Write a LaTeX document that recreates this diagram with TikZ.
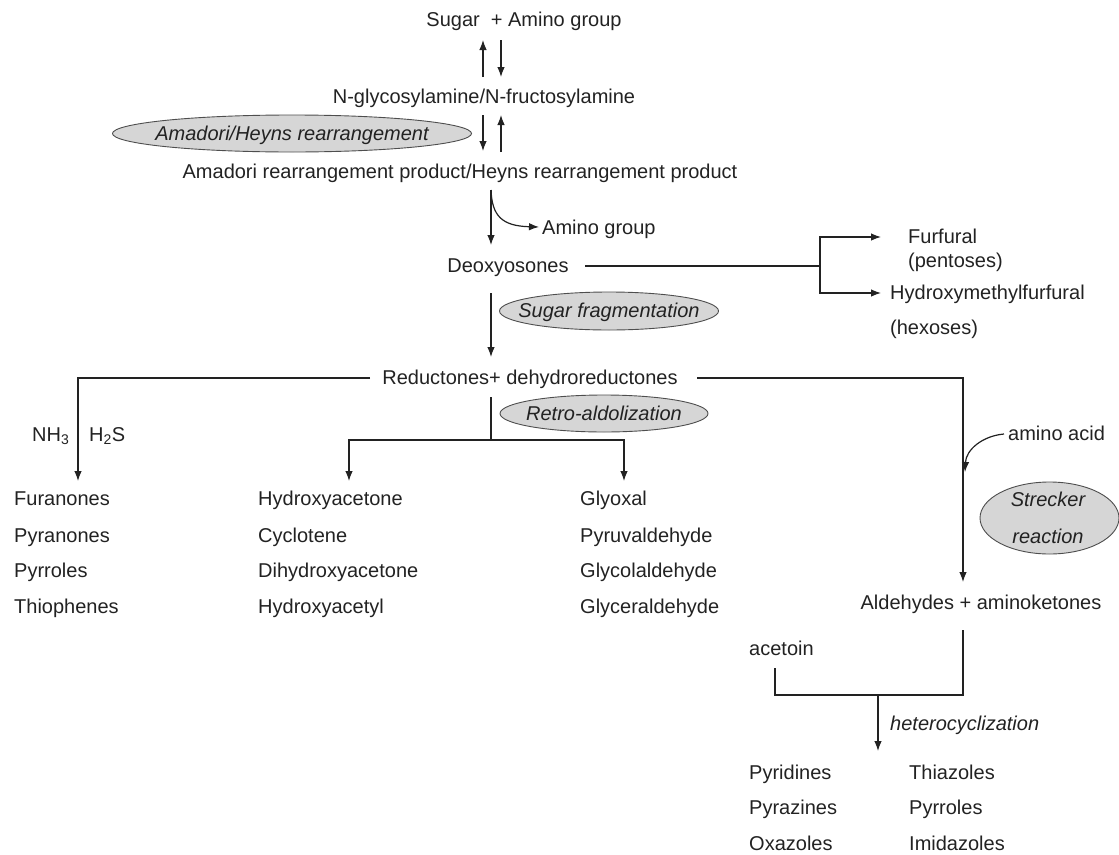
\documentclass[tikz,border=0pt]{standalone}
\usepackage{fontspec}
\setmainfont{Liberation Sans}
\usetikzlibrary{arrows.meta,shapes.geometric}
\definecolor{ink}{HTML}{222222}
\definecolor{ellfill}{HTML}{D6D6D6}
\begin{document}
\begin{tikzpicture}[x=1pt,y=-1pt,
  every node/.style={inner sep=0pt,text=ink,font=\fontsize{20}{24}\selectfont},
  lbl/.style={anchor=center,text height=0.72em,text depth=0pt,yshift=-3pt},
  item/.style={anchor=west,text height=0.72em,text depth=0pt,yshift=-3pt},
  itl/.style={font=\fontsize{20}{24}\selectfont\itshape},
  conn/.style={draw=ink,line width=1.2pt},
  arr/.style={conn,-{Latex[length=10pt,width=7.5pt]}},
  oval/.style={ellipse,draw=ink!80,line width=0.9pt,fill=ellfill},
]
\useasboundingbox (0,0) rectangle (1119,854);

% main column
\node[lbl] (sugar) at (524,20) {Sugar \ + Amino group};
\node[lbl] (ngly) at (484,97) {N-glycosylamine/N-fructosylamine};
\node[lbl] (arp) at (460,172) {Amadori rearrangement product/Heyns rearrangement product};
\node[item] (amino) at (542,228) {Amino group};
\node[lbl] (deoxy) at (508,266) {Deoxyosones};
\node[item] (furf) at (908,237) {Furfural};
\node[item] (pent) at (908,261) {(pentoses)};
\node[item] (hmf) at (890,293) {Hydroxymethylfurfural};
\node[item] (hex) at (890,328) {(hexoses)};
\node[lbl] (red) at (530,378) {Reductones+ dehydroreductones};

% ellipses
\node[oval,minimum width=359pt,minimum height=37pt] (amadori) at (292,133.5) {};
\node[lbl,itl] (amadoriT) at (amadori.center) {Amadori/Heyns rearrangement};
\node[oval,minimum width=219pt,minimum height=38pt] (sugfrag) at (609,311) {};
\node[lbl,itl] (sugfragT) at (sugfrag.center) {Sugar fragmentation};
\node[oval,minimum width=208pt,minimum height=37pt] (retro) at (604,413.5) {};
\node[lbl,itl] (retroT) at (retro.center) {Retro-aldolization};
\node[oval,minimum width=139pt,minimum height=72pt] (strecker) at (1049.5,518) {};
\node[lbl,itl] (streckerA) at (1048,500) {Strecker};
\node[lbl,itl] (streckerB) at (1048,537) {reaction};

% side labels
\node[item] (nh3) at (32,435) {NH\textsubscript{3}};
\node[item] (h2s) at (89,435) {H\textsubscript{2}S};
\node[item] (aa) at (1008,434) {amino acid};

% lists
\node[item] (furan) at (14,499) {Furanones};
\node[item] (pyran) at (14,536) {Pyranones};
\node[item] (pyrr1) at (14,571) {Pyrroles};
\node[item] (thio) at (14,607) {Thiophenes};
\node[item] (hace) at (258,499) {Hydroxyacetone};
\node[item] (cycl) at (258,536) {Cyclotene};
\node[item] (dhace) at (258,571) {Dihydroxyacetone};
\node[item] (hacet) at (258,607) {Hydroxyacetyl};
\node[item] (glyox) at (580,499) {Glyoxal};
\node[item] (pyruv) at (580,536) {Pyruvaldehyde};
\node[item] (glycol) at (580,571) {Glycolaldehyde};
\node[item] (glycer) at (580,607) {Glyceraldehyde};

\node[lbl] (ald) at (981,603) {Aldehydes + aminoketones};
\node[item] (acet) at (749,649) {acetoin};
\node[item,itl] (hetero) at (890,724) {heterocyclization};
\node[item] (pyrid) at (749,773) {Pyridines};
\node[item] (pyraz) at (749,808) {Pyrazines};
\node[item] (oxaz) at (749,844) {Oxazoles};
\node[item] (thiaz) at (909,773) {Thiazoles};
\node[item] (pyrr2) at (909,808) {Pyrroles};
\node[item] (imid) at (909,844) {Imidazoles};

% connector coordinates
\coordinate (s1) at (483,40);  \coordinate (n1) at (483,77);
\coordinate (s2) at (501,40);  \coordinate (n2) at (501,77);
\coordinate (n3) at (483,115); \coordinate (a3) at (483,151);
\coordinate (n4) at (501,115); \coordinate (a4) at (501,152);
\coordinate (a5) at (491,190); \coordinate (d5) at (491,245);
\coordinate (dr) at (585,266); \coordinate (fork) at (820,266);
\coordinate (fu) at (881,237); \coordinate (hm) at (881,293);
\coordinate (d6) at (491,293); \coordinate (r6) at (491,357);
\coordinate (rl) at (370,378); \coordinate (rr) at (697,378);
\coordinate (fa) at (78,481);  \coordinate (aa2) at (963,582);
\coordinate (rc) at (491,397); \coordinate (rj) at (491,440);
\coordinate (ha) at (349,481); \coordinate (ga) at (624,481);
\coordinate (sk) at (963,630); \coordinate (hj) at (878,695);
\coordinate (ac) at (775,668); \coordinate (py) at (878,751);
\coordinate (am) at (539,227);

% arrows
\draw[arr] (n1) -- (s1);
\draw[arr] (s2) -- (n2);
\draw[arr] (n3) -- (a3);
\draw[arr] (a4) -- (n4);
\draw[arr] (a5) -- (d5);
\draw[arr] (a5) .. controls (492,216) and (502,226) .. (am);
\draw[conn] (dr) -- (fork);
\draw[arr] (fork) |- (fu);
\draw[arr] (fork) |- (hm);
\draw[arr] (d6) -- (r6);
\draw[arr] (rl) -| (fa);
\draw[arr] (rr) -| (aa2);
\draw[arr] ([xshift=-4pt,yshift=3pt]aa.west) .. controls (982,436) and (966,450) .. (965,472);
\draw[conn] (rc) -- (rj);
\draw[arr] (rj) -| (ha);
\draw[arr] (rj) -| (ga);
\draw[conn] (sk) |- (hj);
\draw[conn] (hj) -| (ac);
\draw[arr] (hj) -- (py);
\end{tikzpicture}
\end{document}
